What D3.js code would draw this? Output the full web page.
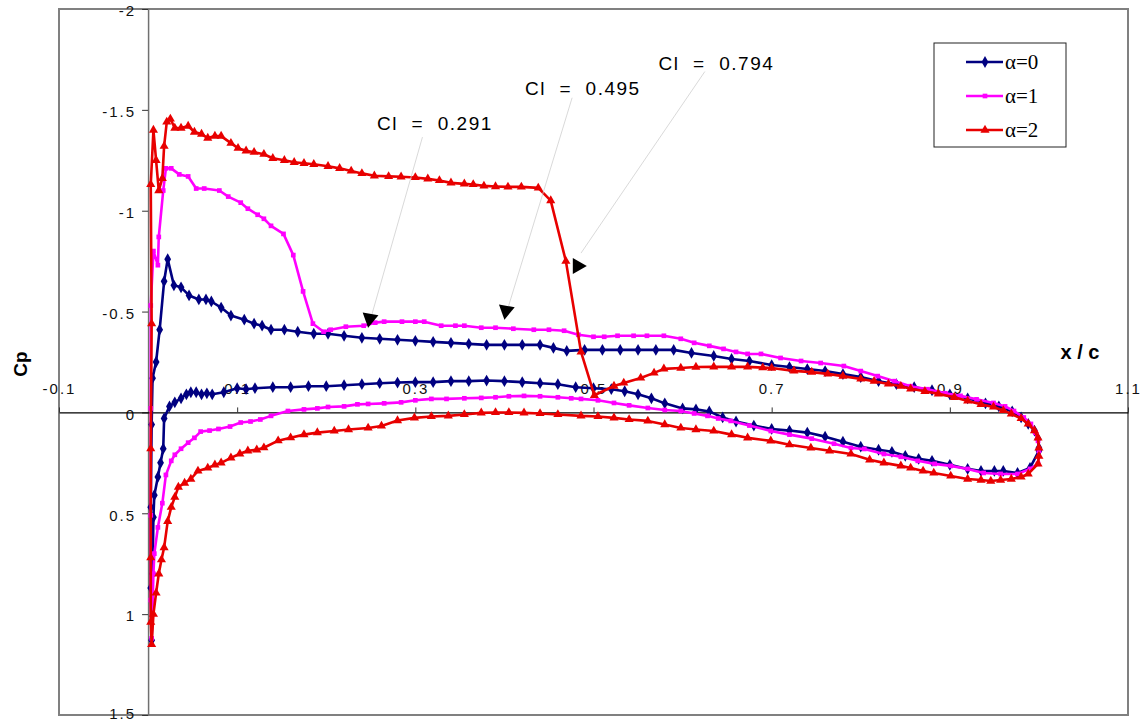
<!DOCTYPE html>
<html>
<head>
<meta charset="utf-8">
<script src="https://cdn.jsdelivr.net/npm/d3@7"></script>
<style>
body { margin: 0; background: #fff; }
text { font-family: "Liberation Sans", Arial, sans-serif; }
</style>
</head>
<body>
<svg id="chart" width="1144" height="722"></svg>
<script>
// pressure distributions, [x/c, Cp], each surface from leading edge to trailing edge
var alpha0Upper = [[0.003,0.87],[0.003,0.47],[0.004,0.06],[0.005,-0.17],[0.009,-0.25],[0.013,-0.41],[0.018,-0.65],[0.022,-0.76],[0.029,-0.63],[0.037,-0.62],[0.046,-0.58],[0.057,-0.56],[0.065,-0.56],[0.071,-0.55],[0.082,-0.52],[0.093,-0.48],[0.108,-0.46],[0.119,-0.44],[0.128,-0.43],[0.138,-0.41],[0.153,-0.41],[0.168,-0.40],[0.186,-0.39],[0.202,-0.39],[0.22,-0.38],[0.24,-0.37],[0.26,-0.365],[0.28,-0.36],[0.30,-0.355],[0.32,-0.35],[0.34,-0.345],[0.36,-0.34],[0.38,-0.335],[0.40,-0.335],[0.42,-0.335],[0.44,-0.335],[0.455,-0.32],[0.47,-0.305],[0.49,-0.31],[0.51,-0.31],[0.53,-0.31],[0.55,-0.31],[0.57,-0.31],[0.59,-0.31],[0.61,-0.295],[0.635,-0.28],[0.655,-0.265],[0.675,-0.255],[0.70,-0.235],[0.72,-0.225],[0.74,-0.215],[0.76,-0.205],[0.78,-0.19],[0.80,-0.175],[0.82,-0.155],[0.84,-0.14],[0.86,-0.125],[0.88,-0.11],[0.90,-0.09],[0.92,-0.07],[0.94,-0.045],[0.955,-0.03],[0.97,-0.005],[0.98,0.025],[0.988,0.057],[0.995,0.09],[0.999,0.13],[1.0,0.176]];
var alpha0Lower = [[0.004,1.13],[0.005,0.80],[0.006,0.52],[0.007,0.41],[0.011,0.32],[0.014,0.25],[0.017,0.18],[0.018,0.03],[0.024,-0.03],[0.030,-0.05],[0.037,-0.07],[0.043,-0.09],[0.048,-0.10],[0.054,-0.10],[0.060,-0.09],[0.066,-0.095],[0.072,-0.09],[0.085,-0.10],[0.100,-0.12],[0.110,-0.115],[0.120,-0.12],[0.14,-0.125],[0.16,-0.125],[0.18,-0.13],[0.20,-0.13],[0.22,-0.135],[0.24,-0.14],[0.26,-0.145],[0.28,-0.148],[0.30,-0.15],[0.32,-0.15],[0.34,-0.155],[0.36,-0.155],[0.38,-0.158],[0.40,-0.155],[0.42,-0.15],[0.44,-0.145],[0.46,-0.14],[0.48,-0.125],[0.50,-0.12],[0.52,-0.115],[0.535,-0.105],[0.55,-0.09],[0.565,-0.07],[0.58,-0.045],[0.60,-0.02],[0.615,-0.015],[0.63,-0.005],[0.645,0.025],[0.66,0.045],[0.68,0.065],[0.70,0.082],[0.72,0.09],[0.74,0.10],[0.76,0.12],[0.78,0.145],[0.80,0.17],[0.82,0.185],[0.835,0.195],[0.85,0.215],[0.865,0.23],[0.88,0.24],[0.90,0.26],[0.92,0.28],[0.935,0.29],[0.95,0.29],[0.96,0.29],[0.976,0.30],[0.99,0.275],[1.0,0.19]];

var alpha1Upper = [[0.003,0.93],[0.003,0.51],[0.003,-0.02],[0.003,-0.53],[0.006,-0.80],[0.011,-0.73],[0.012,-0.87],[0.017,-1.10],[0.020,-1.21],[0.026,-1.21],[0.035,-1.18],[0.045,-1.17],[0.054,-1.11],[0.063,-1.11],[0.080,-1.10],[0.090,-1.07],[0.104,-1.04],[0.112,-1.01],[0.123,-0.98],[0.130,-0.96],[0.138,-0.925],[0.152,-0.885],[0.163,-0.78],[0.174,-0.60],[0.185,-0.44],[0.197,-0.40],[0.205,-0.41],[0.222,-0.425],[0.242,-0.43],[0.255,-0.445],[0.265,-0.45],[0.285,-0.45],[0.30,-0.45],[0.31,-0.45],[0.329,-0.43],[0.345,-0.43],[0.355,-0.43],[0.374,-0.42],[0.39,-0.42],[0.41,-0.415],[0.433,-0.41],[0.45,-0.41],[0.467,-0.405],[0.483,-0.385],[0.50,-0.375],[0.512,-0.375],[0.527,-0.38],[0.545,-0.38],[0.56,-0.38],[0.579,-0.38],[0.598,-0.365],[0.613,-0.345],[0.63,-0.33],[0.646,-0.315],[0.66,-0.30],[0.673,-0.29],[0.688,-0.29],[0.71,-0.27],[0.733,-0.255],[0.755,-0.245],[0.781,-0.23],[0.80,-0.205],[0.819,-0.18],[0.838,-0.155],[0.856,-0.13],[0.875,-0.115],[0.895,-0.095],[0.912,-0.082],[0.93,-0.065],[0.949,-0.047],[0.962,-0.03],[0.972,-0.007],[0.983,0.025],[0.991,0.057],[0.996,0.10],[0.999,0.141]];
var alpha1Lower = [[0.004,1.12],[0.006,0.80],[0.007,0.70],[0.011,0.57],[0.016,0.45],[0.020,0.31],[0.026,0.24],[0.030,0.21],[0.037,0.18],[0.045,0.15],[0.052,0.126],[0.059,0.095],[0.069,0.09],[0.079,0.082],[0.092,0.07],[0.104,0.05],[0.115,0.045],[0.126,0.035],[0.138,0.017],[0.157,-0.007],[0.175,-0.015],[0.19,-0.02],[0.202,-0.027],[0.22,-0.03],[0.235,-0.04],[0.247,-0.042],[0.265,-0.045],[0.284,-0.05],[0.30,-0.06],[0.318,-0.067],[0.335,-0.067],[0.355,-0.07],[0.374,-0.072],[0.39,-0.075],[0.405,-0.08],[0.422,-0.082],[0.44,-0.08],[0.46,-0.075],[0.475,-0.07],[0.486,-0.067],[0.505,-0.06],[0.523,-0.047],[0.54,-0.035],[0.561,-0.022],[0.58,-0.012],[0.598,-0.007],[0.613,0.005],[0.628,0.017],[0.64,0.03],[0.654,0.042],[0.675,0.065],[0.699,0.092],[0.72,0.11],[0.745,0.13],[0.77,0.155],[0.789,0.176],[0.804,0.181],[0.826,0.206],[0.845,0.22],[0.864,0.24],[0.883,0.255],[0.901,0.265],[0.92,0.28],[0.938,0.30],[0.957,0.305],[0.976,0.305],[0.99,0.28],[0.999,0.255],[1.0,0.19]];

var alpha2Upper = [[0.003,1.04],[0.003,0.72],[0.003,0.18],[0.004,-0.44],[0.003,-1.13],[0.006,-1.40],[0.009,-1.25],[0.012,-1.10],[0.016,-1.16],[0.018,-1.32],[0.021,-1.44],[0.025,-1.455],[0.030,-1.41],[0.037,-1.41],[0.045,-1.42],[0.052,-1.39],[0.060,-1.38],[0.067,-1.36],[0.075,-1.37],[0.082,-1.37],[0.093,-1.335],[0.101,-1.31],[0.110,-1.297],[0.119,-1.29],[0.130,-1.28],[0.140,-1.26],[0.153,-1.25],[0.164,-1.24],[0.175,-1.235],[0.186,-1.23],[0.202,-1.22],[0.215,-1.21],[0.228,-1.197],[0.24,-1.185],[0.254,-1.173],[0.27,-1.17],[0.284,-1.168],[0.30,-1.165],[0.314,-1.158],[0.327,-1.15],[0.340,-1.138],[0.355,-1.133],[0.365,-1.13],[0.377,-1.123],[0.39,-1.12],[0.404,-1.118],[0.419,-1.118],[0.438,-1.113],[0.452,-1.05],[0.469,-0.75],[0.486,-0.30],[0.501,-0.085],[0.523,-0.131],[0.534,-0.146],[0.553,-0.171],[0.568,-0.196],[0.579,-0.216],[0.598,-0.22],[0.615,-0.225],[0.635,-0.226],[0.655,-0.226],[0.673,-0.226],[0.69,-0.222],[0.70,-0.22],[0.725,-0.206],[0.745,-0.2],[0.763,-0.191],[0.78,-0.18],[0.80,-0.166],[0.815,-0.155],[0.831,-0.141],[0.845,-0.13],[0.856,-0.117],[0.872,-0.105],[0.887,-0.092],[0.905,-0.075],[0.920,-0.057],[0.935,-0.04],[0.949,-0.027],[0.96,-0.01],[0.969,0.007],[0.98,0.03],[0.988,0.057],[0.995,0.09],[0.999,0.126],[1.0,0.176]];
var alpha2Lower = [[0.004,1.15],[0.006,1.00],[0.009,0.895],[0.012,0.80],[0.015,0.73],[0.018,0.67],[0.022,0.54],[0.026,0.47],[0.030,0.42],[0.034,0.37],[0.041,0.35],[0.048,0.33],[0.056,0.29],[0.067,0.275],[0.075,0.26],[0.082,0.25],[0.093,0.225],[0.103,0.205],[0.112,0.19],[0.122,0.185],[0.130,0.175],[0.146,0.14],[0.16,0.125],[0.175,0.11],[0.19,0.10],[0.209,0.092],[0.225,0.085],[0.247,0.077],[0.262,0.067],[0.28,0.04],[0.299,0.027],[0.318,0.02],[0.337,0.017],[0.355,0.01],[0.374,0.002],[0.39,0.0],[0.405,0.0],[0.422,0.002],[0.44,0.005],[0.46,0.01],[0.486,0.017],[0.505,0.02],[0.523,0.027],[0.54,0.035],[0.561,0.042],[0.58,0.06],[0.598,0.077],[0.615,0.085],[0.635,0.092],[0.655,0.11],[0.673,0.126],[0.699,0.141],[0.72,0.16],[0.744,0.176],[0.765,0.19],[0.789,0.206],[0.81,0.235],[0.826,0.25],[0.845,0.265],[0.856,0.275],[0.87,0.29],[0.882,0.30],[0.901,0.315],[0.92,0.33],[0.935,0.335],[0.946,0.34],[0.957,0.335],[0.969,0.33],[0.98,0.32],[0.988,0.305],[0.999,0.255],[1.0,0.216]];

var seriesNames = ["\u03b1=0", "\u03b1=1", "\u03b1=2"];
var clLabels = ["Cl = 0.291", "Cl = 0.495", "Cl = 0.794"];
var xTicks = [-0.1, 0.1, 0.3, 0.5, 0.7, 0.9, 1.1];
var yTicks = [-2, -1.5, -1, -0.5, 0, 0.5, 1, 1.5];

var margin = {top: 9, right: 16, bottom: 7, left: 59};
var width = 1144 - margin.left - margin.right;
var height = 722 - margin.top - margin.bottom;

var svg = d3.select("#chart");
var g = svg.append("g")
    .attr("transform", "translate(" + margin.left + "," + margin.top + ")");

var x = d3.scaleLinear().domain([-0.1, 1.1]).range([0, width]);
var y = d3.scaleLinear().domain([-2, 1.5]).range([0, height]);

// plot frame
g.append("rect")
    .attr("width", width)
    .attr("height", height)
    .attr("fill", "none")
    .attr("stroke", "#808080")
    .attr("stroke-width", 2);

// y axis sits on x/c = 0
var yAxis = d3.axisLeft(y)
    .tickValues(yTicks)
    .tickSize(6)
    .tickSizeOuter(0)
    .tickPadding(6)
    .tickFormat(function (d) { return String(d); });
var gy = g.append("g")
    .attr("class", "y-axis")
    .attr("transform", "translate(" + x(0) + ",0)")
    .call(yAxis);
gy.select(".domain").attr("stroke", "#707070").attr("stroke-width", 1.5);
gy.selectAll(".tick line").attr("stroke", "#333");
gy.selectAll(".tick text")
    .attr("dy", function (d) { return d === 1.5 ? "0.2em" : "0.45em"; }) // keep the last one inside the page
    .style("font-size", "15px")
    .style("letter-spacing", "2px")
    .attr("fill", "#111");

// x axis sits on Cp = 0, labels above the line
var xAxis = d3.axisTop(x)
    .tickValues(xTicks)
    .tickSize(5)
    .tickSizeOuter(0)
    .tickPadding(13)
    .tickFormat(d3.format(".1f"));
var gx = g.append("g")
    .attr("class", "x-axis")
    .attr("transform", "translate(0," + y(0) + ")")
    .call(xAxis);
gx.select(".domain").attr("stroke", "#000").attr("stroke-width", 1.2);
gx.selectAll(".tick line").attr("stroke", "#333");
gx.selectAll(".tick text")
    .text(function (d) { return String(d); })
    .style("font-size", "15px")
    .style("letter-spacing", "2px")
    .attr("fill", "#111");

// axis titles
svg.append("text")
    .attr("transform", "translate(27,364) rotate(-90)")
    .attr("text-anchor", "middle")
    .style("font-size", "19px")
    .style("font-weight", "bold")
    .text("Cp");
svg.append("text")
    .attr("x", 1080)
    .attr("y", 359)
    .attr("text-anchor", "middle")
    .style("font-size", "20px")
    .style("font-weight", "bold")
    .text("x / c");

var series = [
    {name: seriesNames[0], upper: alpha0Upper, lower: alpha0Lower, color: "#000080", symbol: d3.symbolDiamond, size: 40},
    {name: seriesNames[1], upper: alpha1Upper, lower: alpha1Lower, color: "#ff00ff", symbol: d3.symbolSquare, size: 22},
    {name: seriesNames[2], upper: alpha2Upper, lower: alpha2Lower, color: "#e80000", symbol: d3.symbolTriangle, size: 36}
];

var line = d3.line()
    .x(function (d) { return x(d[0]); })
    .y(function (d) { return y(d[1]); });

series.forEach(function (s) {
    // trailing edge (upper) -> leading edge -> trailing edge (lower)
    var pts = s.upper.slice().reverse().concat(s.lower);
    g.append("path")
        .datum(pts)
        .attr("fill", "none")
        .attr("stroke", s.color)
        .attr("stroke-width", 2.6)
        .attr("stroke-linejoin", "round")
        .attr("d", line);
    g.selectAll(null)
        .data(pts)
        .enter().append("path")
        .attr("transform", function (d) { return "translate(" + x(d[0]) + "," + y(d[1]) + ")"; })
        .attr("d", d3.symbol().type(s.symbol).size(s.size))
        .attr("fill", s.color);
});

// legend
var legend = svg.append("g").attr("transform", "translate(934,43)");
legend.append("rect")
    .attr("width", 132)
    .attr("height", 104)
    .attr("fill", "#fff")
    .attr("stroke", "#222")
    .attr("stroke-width", 1);
series.forEach(function (s, i) {
    var ly = 19 + i * 34;
    legend.append("line")
        .attr("x1", 32).attr("x2", 69)
        .attr("y1", ly).attr("y2", ly)
        .attr("stroke", s.color)
        .attr("stroke-width", 2.5);
    legend.append("path")
        .attr("transform", "translate(51," + ly + ")")
        .attr("d", d3.symbol().type(s.symbol).size(s.size))
        .attr("fill", s.color);
    legend.append("text")
        .attr("x", 71)
        .attr("y", ly + 7)
        .style("font-family", "'Liberation Serif', 'Times New Roman', serif")
        .style("font-size", "21px")
        .text(s.name);
});

// lift coefficient call-outs: text position, line start, line end, arrow tip (data units)
var callouts = [
    {tx: 0.322, ty: -1.40, x0: 0.308, y0: -1.365, x1: 0.247, y1: -0.42, hx: 0.247, hy: -0.42, angle: 100},
    {tx: 0.488, ty: -1.575, x0: 0.476, y0: -1.56, x1: 0.40, y1: -0.46, hx: 0.40, hy: -0.46, angle: 100},
    {tx: 0.638, ty: -1.70, x0: 0.625, y0: -1.69, x1: 0.486, y1: -0.79, hx: 0.4925, hy: -0.726, angle: 0}
];
callouts.forEach(function (c, i) {
    g.append("line")
        .attr("x1", x(c.x0)).attr("y1", y(c.y0))
        .attr("x2", x(c.x1)).attr("y2", y(c.y1))
        .attr("stroke", "#cfcfcf")
        .attr("stroke-width", 0.8);
    g.append("path")
        .attr("d", "M0,0 L-14,-8 L-14,8 Z")
        .attr("transform", "translate(" + x(c.hx) + "," + y(c.hy) + ") rotate(" + c.angle + ")")
        .attr("fill", "#000");
    g.append("text")
        .attr("x", x(c.tx))
        .attr("y", y(c.ty))
        .attr("text-anchor", "middle")
        .style("font-size", "19px")
        .style("letter-spacing", "1.5px")
        .style("white-space", "pre")
        .text(clLabels[i].replace(/ = /, "  =  "));
});
</script>
</body>
</html>
